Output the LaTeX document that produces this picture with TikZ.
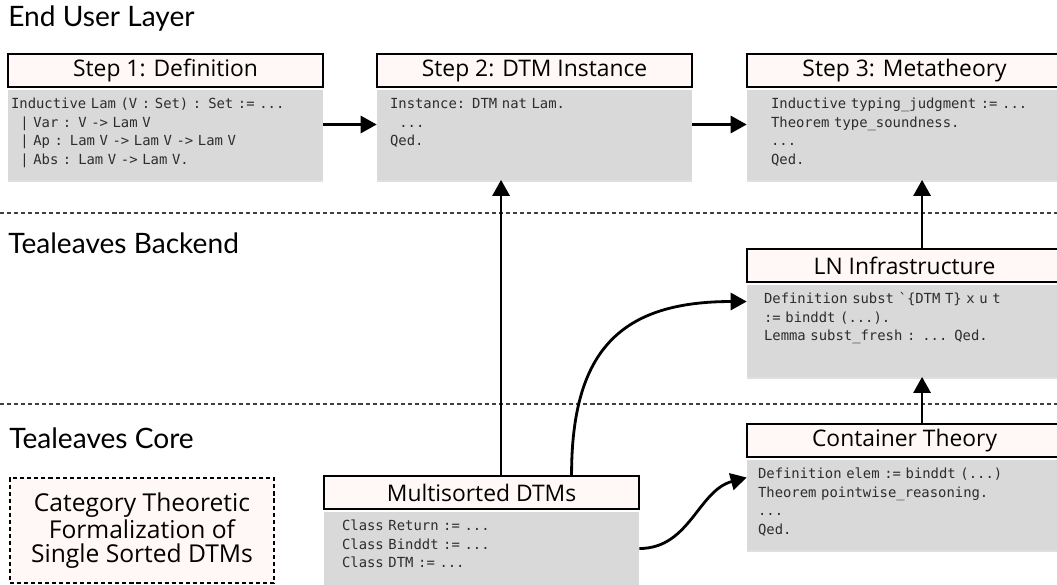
\documentclass[tikz,border=0pt]{standalone}
\usepackage{fontspec}
\setmainfont{Open Sans}
\setmonofont{DejaVu Sans Mono}[WordSpace={1,0,0}]
\newfontfamily\layerfont{Lato}
\usetikzlibrary{positioning,arrows.meta,shadows}

\definecolor{titlepink}{RGB}{255,248,246}
\definecolor{bodygray}{RGB}{217,217,217}
\definecolor{codetext}{RGB}{45,45,45}

\tikzset{
  layerlabel/.style={anchor=base west, inner sep=0pt, font=\layerfont\fontsize{16}{19}\selectfont},
  layerline/.style={line width=0.6pt, black!75, dash pattern=on 2.3pt off 1.7pt},
  cardtitle/.style={draw, line width=1.2pt, fill=titlepink, minimum width=6.3cm,
    minimum height=0.66cm, inner sep=0pt, anchor=north west, font=\fontsize{13}{15}\selectfont},
  codebox/.style={fill=bodygray, text=codetext, text width=6.3cm, inner sep=0pt, align=left,
    text height=0.38cm, font=\ttfamily\fontsize{7.9}{10.6}\selectfont,
    execute at begin node={\leftskip=#1\relax},
    drop shadow={shadow xshift=0pt, shadow yshift=-0.05cm, opacity=0.25}},
  arr/.style={-{Triangle[length=0.32cm,width=0.34cm]}, line width=1.6pt},
}

\begin{document}
\begin{tikzpicture}
  \useasboundingbox (0,0) rectangle (21.14,-11.7);

  % layers
  \node[layerlabel] (lay-user) at (0.16,-0.54) {End User Layer};
  \node[layerlabel] (lay-back) at (0.16,-5.08) {Tealeaves Backend};
  \node[layerlabel] (lay-core) at (0.18,-8.96) {Tealeaves Core};
  \draw[layerline] (0,-4.26) -- (21.14,-4.26);
  \draw[layerline] (0,-8.08) -- (21.14,-8.08);

  % end user steps
  \node[cardtitle] (s1t) at (0.14,-1.06) {Step 1: Definition};
  \node[codebox=0.06cm, text depth=1.42cm, below=0.6pt of s1t] (s1b)
    {Inductive Lam (V : Set) : Set := ...\\
     ~~| Var : V -> Lam V\\
     ~~| Ap : Lam V -> Lam V -> Lam V\\
     ~~| Abs : Lam V -> Lam V.};

  \node[cardtitle] (s2t) at (7.52,-1.06) {Step 2: DTM Instance};
  \node[codebox=0.26cm, text depth=1.42cm, below=0.6pt of s2t] (s2b)
    {Instance: DTM nat Lam.\\
     ~~...\\
     Qed.};

  \node[cardtitle] (s3t) at (14.92,-1.06) {Step 3: Metatheory};
  \node[codebox=0.48cm, text depth=1.42cm, below=0.6pt of s3t] (s3b)
    {Inductive typing\_judgment := ...\\
     Theorem type\_soundness.\\
     ...\\
     Qed.};

  % backend
  \node[cardtitle] (lnt) at (14.92,-4.96) {LN Infrastructure};
  \node[codebox=0.34cm, text depth=1.46cm, below=0.6pt of lnt] (lnb)
    {Definition subst `\{DTM T\} x u t\\
     := binddt (...).\\
     Lemma subst\_fresh : ... Qed.};

  % core
  \node[cardtitle] (ctt) at (14.92,-8.46) {Container Theory};
  \node[codebox=0.22cm, text depth=1.42cm, below=0.6pt of ctt] (ctb)
    {Definition elem := binddt (...)\\
     Theorem pointwise\_reasoning.\\
     ...\\
     Qed.};

  \node[cardtitle] (mtt) at (6.46,-9.5) {Multisorted DTMs};
  \node[codebox=0.36cm, text depth=1.1cm, below=0.6pt of mtt] (mtb)
    {Class Return := ...\\
     Class Binddt := ...\\
     Class DTM := ...};

  \node[draw, line width=1.1pt, dash pattern=on 2.3pt off 1.7pt, fill=titlepink,
    minimum width=5.28cm, minimum height=2.1cm, anchor=north west, align=center,
    font=\fontsize{14}{13.6}\selectfont] (single) at (0.18,-9.54)
    {Category Theoretic\\ Formalization of\\ Single Sorted DTMs};

  % arrows
  \draw[arr] ([yshift=0.2cm]s1b.east) -- ([yshift=0.2cm]s2b.west);
  \draw[arr] ([yshift=0.2cm]s2b.east) -- ([yshift=0.2cm]s3b.west);
  \draw[arr] ([xshift=0.35cm]lnt.north) -- ([xshift=0.35cm]s3b.south);
  \draw[arr] ([xshift=0.35cm]ctt.north) -- ([xshift=0.35cm]lnb.south);
  \draw[arr] ([xshift=0.39cm]mtt.north) -- ([xshift=0.39cm]mtt.north |- s2b.south);
  \draw[arr] ([xshift=1.8cm]mtt.north) to[out=90,in=180,looseness=1.3] ([yshift=0.58cm]lnb.west);
  \draw[arr] (mtb.east) to[out=0,in=195] ([yshift=0.54cm]ctb.west);
\end{tikzpicture}
\end{document}
